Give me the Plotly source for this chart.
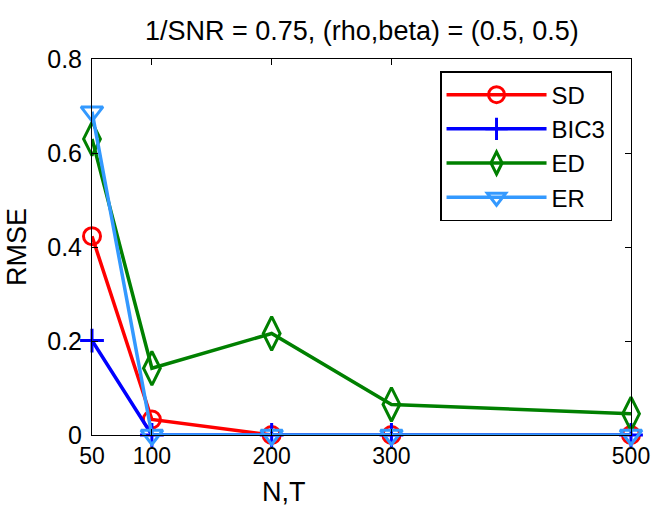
import plotly.graph_objects as go

# sample sizes N = T
nt = [50, 100, 200, 300, 500]

# RMSE per method
sd = [0.423, 0.033, 0.0, 0.0, 0.0]
bic3 = [0.201, 0.0, 0.0, 0.0, 0.0]
ed = [0.630, 0.142, 0.216, 0.065, 0.045]
er = [0.688, 0.0, 0.0, 0.0, 0.0]

x_ticks = [50, 100, 200, 300, 500]
y_ticks = [0, 0.2, 0.4, 0.6, 0.8]
y_labels = ['0', '0.2', '0.4', '0.6', '0.8']

FONT = 'Liberation Sans, Arial, sans-serif'

series = [
    ('SD', sd, '#FF0000', 'circle-open', 17),
    ('BIC3', bic3, '#0000FF', 'cross-thin-open', 17),
    ('ED', ed, '#008000', 'diamond-tall-open', 24),
    ('ER', er, '#3399FF', 'triangle-down-open', 19),
]

fig = go.Figure()
for name, vals, color, symbol, size in series:
    fig.add_trace(go.Scatter(
        x=nt, y=vals, name=name,
        mode='lines+markers',
        line=dict(color=color, width=3.5),
        marker=dict(symbol=symbol, size=size, color=color,
                    line=dict(color=color, width=3)),
        cliponaxis=False
    ))

axis_style = dict(
    showline=True, linecolor='black', linewidth=1,
    mirror='allticks', ticks='inside', ticklen=6, tickcolor='black',
    showgrid=False, zeroline=False,
)

fig.update_layout(
    width=664, height=509,
    margin=dict(l=92, r=33, t=59, b=74),
    paper_bgcolor='white', plot_bgcolor='white',
    font=dict(family=FONT, color='black'),
    showlegend=True,
    legend=dict(
        x=0.6457, y=0.968, xanchor='left', yanchor='top',
        bordercolor='black', borderwidth=1.5, bgcolor='white',
        font=dict(family=FONT, size=24, color='black'),
        itemwidth=100, tracegroupgap=0
    ),
    xaxis=dict(range=[50, 500], tickvals=x_ticks,
               tickfont=dict(family=FONT, size=23, color='black'), **axis_style),
    yaxis=dict(range=[0, 0.8], tickvals=y_ticks, ticktext=y_labels,
               ticklabelstandoff=4,
               tickfont=dict(family=FONT, size=25, color='black'), **axis_style),
    annotations=[
        dict(text='1/SNR = 0.75, (rho,beta) = (0.5, 0.5)',
             xref='paper', yref='paper', x=0.5, y=1.0, yshift=28,
             xanchor='center', yanchor='middle', showarrow=False,
             font=dict(family=FONT, size=27, color='black')),
        dict(text='N,T', xref='paper', yref='paper', x=0.356, y=0, yshift=-57,
             xanchor='center', yanchor='middle', showarrow=False,
             font=dict(family=FONT, size=27, color='black')),
        dict(text='RMSE', xref='paper', yref='paper', x=0, xshift=-75, y=0.5,
             xanchor='center', yanchor='middle', showarrow=False, textangle=-90,
             font=dict(family=FONT, size=27, color='black')),
    ]
)

# drop the default 8px page margin so the figure fills the window
fig.write_html('out.html', config={'displayModeBar': False},
               post_script="document.body.style.margin='0';")
